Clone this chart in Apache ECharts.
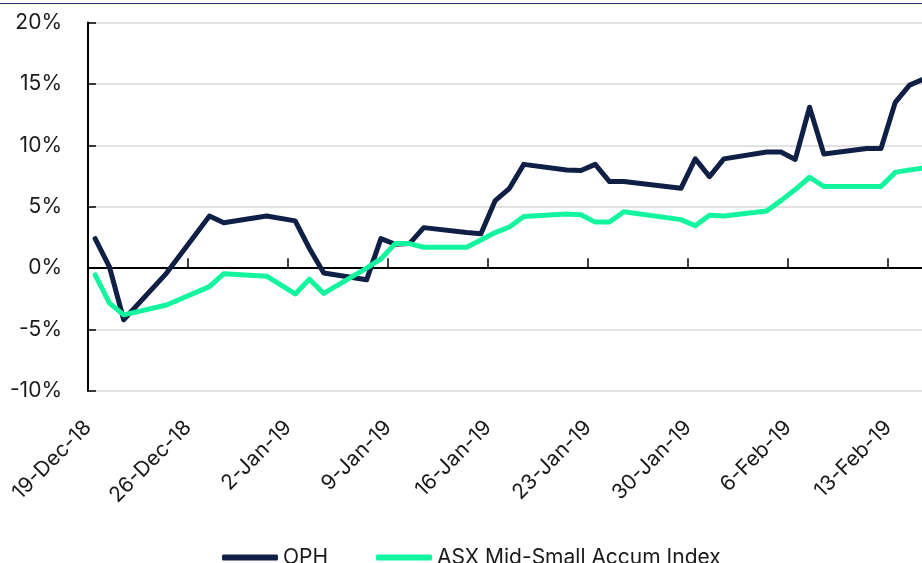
<!DOCTYPE html>
<html>
<head>
<meta charset="utf-8">
<script src="https://cdn.jsdelivr.net/npm/echarts@6/dist/echarts.min.js"></script>
<style>
  html, body { margin: 0; padding: 0; background: #fff; }
  #chart { width: 922px; height: 563px; }
</style>
</head>
<body>
<div id="chart"></div>
<script>
// trading days
var dates = ['2018-12-19','2018-12-20','2018-12-21','2018-12-24','2018-12-27','2018-12-28','2018-12-31',
  '2019-01-02','2019-01-03','2019-01-04','2019-01-07','2019-01-08','2019-01-09','2019-01-10','2019-01-11',
  '2019-01-14','2019-01-15','2019-01-16','2019-01-17','2019-01-18','2019-01-21','2019-01-22','2019-01-23',
  '2019-01-24','2019-01-25','2019-01-29','2019-01-30','2019-01-31','2019-02-01','2019-02-04','2019-02-05',
  '2019-02-06','2019-02-07','2019-02-08','2019-02-11','2019-02-12','2019-02-13','2019-02-14','2019-02-15'];

var oph = [2.4, 0.1, -4.2, -0.4, 4.25, 3.7, 4.25, 3.85, 1.6, -0.4, -0.95, 2.4, 1.95, 2.0, 3.3,
  2.9, 2.8, 5.5, 6.5, 8.45, 8.0, 7.95, 8.45, 7.05, 7.05, 6.5, 8.9, 7.45, 8.9, 9.45, 9.45,
  8.85, 13.1, 9.3, 9.75, 9.75, 13.5, 14.9, 15.4];

var asx = [-0.55, -2.85, -3.8, -3.0, -1.5, -0.45, -0.65, -2.1, -0.9, -2.05, 0.0, 0.75, 2.0, 2.0, 1.7,
  1.7, 2.3, 2.9, 3.35, 4.2, 4.4, 4.35, 3.75, 3.75, 4.6, 3.95, 3.45, 4.3, 4.25, 4.65, 5.5,
  6.4, 7.4, 6.65, 6.65, 6.65, 7.8, 8.0, 8.15];

var yTicks = [-10, -5, 0, 5, 10, 15, 20];
var months = ['Jan','Feb','Mar','Apr','May','Jun','Jul','Aug','Sep','Oct','Nov','Dec'];

var startDate = '2018-12-19';
var DAY = 86400000;
function dayIndex(s) {
  var a = s.split('-'), b = startDate.split('-');
  return (Date.UTC(+a[0], a[1] - 1, +a[2]) - Date.UTC(+b[0], b[1] - 1, +b[2])) / DAY;
}
function fmtDay(v) {
  var b = startDate.split('-');
  var d = new Date(Date.UTC(+b[0], b[1] - 1, +b[2]) + v * DAY);
  return d.getUTCDate() + '-' + months[d.getUTCMonth()] + '-' + String(d.getUTCFullYear()).slice(2);
}
function pairs(vals) {
  return dates.map(function (s, i) { return [dayIndex(s) + 0.5, vals[i]]; });
}

var font = 'Inter, "Noto Sans", sans-serif';

var option = {
  animation: false,
  textStyle: { fontFamily: font },
  graphic: [{
    type: 'line', shape: { x1: 0, y1: 3.5, x2: 922, y2: 3.5 },
    style: { stroke: '#2b3b7a', lineWidth: 1 }
  }],
  legend: {
    left: 217, top: 542,
    icon: 'roundRect', itemWidth: 56, itemHeight: 6, itemGap: 48,
    textStyle: { fontSize: 21, color: '#1a1a1a', fontFamily: font, padding: [0, 0, 0, 0] },
    data: ['OPH', 'ASX Mid-Small Accum Index']
  },
  grid: { left: 88, top: 22.5, right: -9, bottom: 172, containLabel: false, outerBoundsMode: 'none' },
  xAxis: {
    type: 'value', min: 0, max: 59, interval: 7,
    axisLine: { onZero: true, lineStyle: { color: '#000', width: 2 } },
    axisTick: { inside: true, length: 10, lineStyle: { color: '#000', width: 1.5 } },
    splitLine: { show: false },
    axisLabel: {
      rotate: 45, margin: 33, fontSize: 21, color: '#1a1a1a', fontFamily: font,
      padding: [14, 0, 0, 0],
      showMaxLabel: false,
      formatter: function (v) { return v % 7 === 0 ? fmtDay(v) : ''; }
    }
  },
  yAxis: {
    type: 'value', min: yTicks[0], max: yTicks[yTicks.length - 1], interval: 5,
    axisLine: { show: true, lineStyle: { color: '#000', width: 2 } },
    axisTick: { show: true, inside: true, length: 8, lineStyle: { color: '#000', width: 1.5 } },
    splitLine: { lineStyle: { color: '#d9d9d9', width: 1.5 } },
    axisLabel: {
      margin: 26, fontSize: 21, color: '#1a1a1a', fontFamily: font,
      formatter: '{value}%'
    }
  },
  series: [
    {
      name: 'OPH', type: 'line', data: pairs(oph), showSymbol: false, symbol: 'none',
      color: '#0f1f45',
      lineStyle: { width: 5, color: '#0f1f45', cap: 'round', join: 'round' }
    },
    {
      name: 'ASX Mid-Small Accum Index', type: 'line', data: pairs(asx), showSymbol: false, symbol: 'none',
      color: '#12f59e',
      lineStyle: { width: 5, color: '#12f59e', cap: 'round', join: 'round' }
    }
  ]
};

echarts.init(document.getElementById('chart')).setOption(option);
</script>
</body>
</html>
